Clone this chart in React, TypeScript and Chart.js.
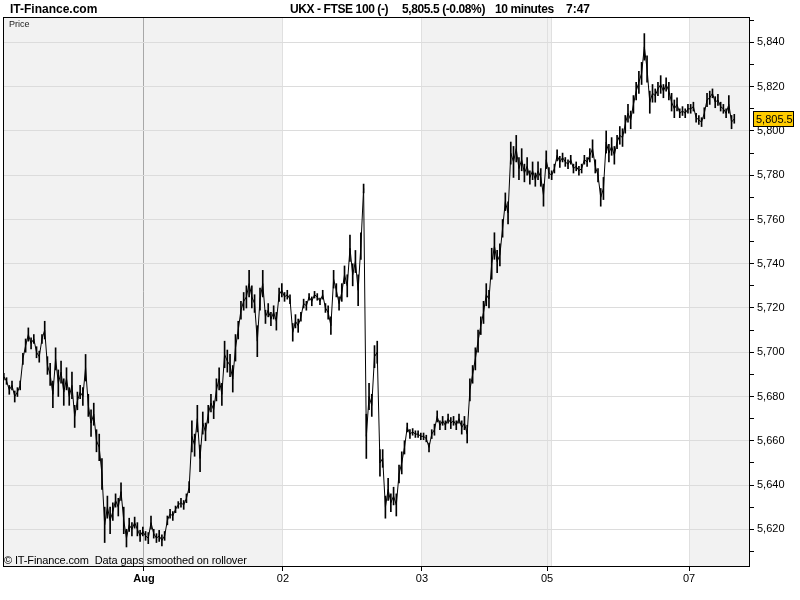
import React, { useEffect, useRef } from 'react';
import { Chart, registerables } from 'chart.js';

Chart.register(...registerables);

// 10-minute closes, one array per trading session
const jul31 = [
  5689, 5687, 5683, 5685, 5680, 5682, 5685, 5697, 5703, 5708,
  5704, 5706, 5700, 5698, 5706, 5710, 5694, 5690, 5681, 5697,
  5686, 5691, 5682, 5688, 5680, 5685, 5671, 5678, 5682, 5680,
  5693, 5676, 5668, 5672, 5660, 5657, 5645, 5622, 5630, 5624,
  5628, 5633, 5630, 5637, 5624, 5616, 5622, 5620, 5623, 5620,
  5617, 5619,
];
const aug01 = [
  5617, 5616, 5623, 5618, 5616, 5617, 5615, 5617, 5624, 5627,
  5626, 5629, 5631, 5632, 5631, 5634, 5639, 5662, 5658, 5670,
  5652, 5668, 5664, 5672, 5677, 5674, 5683, 5688, 5681, 5699,
  5696, 5694, 5688, 5702, 5710, 5719, 5723, 5725, 5731, 5725,
  5722, 5705, 5724, 5731, 5716, 5719, 5715, 5718, 5714, 5726,
  5728,
];
const aug02 = [
  5725, 5726, 5724, 5709, 5714, 5712, 5716, 5722, 5721, 5725,
  5723, 5726, 5725, 5723, 5726, 5720, 5718, 5712, 5733, 5728,
  5722, 5727, 5735, 5730, 5747, 5735, 5741, 5728, 5748, 5774,
  5662, 5680, 5676, 5698, 5700, 5650, 5652, 5630, 5638, 5632,
  5635, 5631, 5645, 5650, 5657, 5666, 5663, 5664, 5663, 5663,
  5662,
];
const aug03 = [
  5662, 5661, 5657, 5663, 5665, 5671, 5667, 5669, 5667, 5670,
  5668, 5669, 5667, 5670, 5666, 5668, 5663, 5683, 5690, 5697,
  5705, 5712, 5718, 5726, 5724, 5740, 5748, 5741, 5744, 5756,
  5768, 5763, 5790, 5786, 5792, 5783, 5787, 5781, 5784, 5779,
  5782, 5778, 5782, 5779, 5771, 5787,
];
const aug06 = [
  5781, 5780, 5783, 5789, 5786, 5788, 5786, 5785, 5787, 5783,
  5784, 5782, 5783, 5787, 5786, 5789, 5792, 5784, 5780, 5770,
  5774, 5795, 5790, 5793, 5789, 5795, 5798, 5797, 5803, 5808,
  5805, 5812, 5818, 5822, 5826, 5838, 5828, 5813, 5817, 5816,
  5819, 5821, 5818, 5821, 5818, 5813, 5810, 5812, 5808, 5809,
  5808, 5810,
];
const aug07 = [
  5810, 5811, 5806, 5805, 5804, 5808, 5814, 5815, 5817, 5813,
  5814, 5811, 5810, 5808, 5812, 5804, 5805.5,
];

// high-low range of each 10-minute bar (index points)
const jul31Range = [
  3, 3, 4, 4, 5, 4, 4, 5, 6, 6, 5, 4, 5, 5, 4, 8,
  8, 10, 12, 10, 12, 10, 12, 10, 8, 12, 10, 8, 6, 8, 12, 10, 12, 10, 10, 12,
  14, 16, 10, 12, 8, 6, 8, 8, 12, 8, 6, 6, 5, 6, 5, 4,
];
const aug01Range = [
  4, 5, 6, 4, 4, 5, 5, 4, 4, 4, 4, 3, 3, 4, 4, 4, 5,
  14, 10, 12, 12, 10, 8, 8, 8, 8, 10, 10, 10, 12, 10, 10, 12, 12, 8,
  8, 8, 10, 12, 10, 8, 14, 10, 12, 6, 6, 6, 6, 8, 6, 6,
];
const aug02Range = [
  4, 4, 4, 8, 6, 6, 4, 4, 4, 3, 4, 3, 3, 3, 4,
  4, 6, 8, 8, 6, 6, 8, 8, 10, 12, 10, 10, 14, 12,
  4, 20, 12, 10, 10, 10, 12, 8, 10, 10, 8, 8, 10, 8, 10, 6, 4, 4, 3, 3, 3, 3,
];
const aug03Range = [
  3, 3, 4, 4, 5, 5, 4, 4, 4, 4, 5, 4, 4, 4, 6, 6, 8,
  10, 8, 10, 10, 8, 10, 10, 8, 14, 12, 10, 10, 8, 8, 10, 10, 14, 12, 10, 10, 8, 8, 6, 8, 6, 8, 8, 10, 8,
];
const aug06Range = [
  5, 4, 4, 5, 5, 4, 4, 4, 4, 4, 4, 4, 4, 4, 4, 6, 8, 6, 6,
  8, 10, 10, 8, 8, 8, 6, 8, 8, 8, 8, 8, 8, 8, 10, 10, 12, 12, 10, 8,
  6, 6, 8, 6, 6, 8, 8, 8, 6, 4, 4, 4, 4,
];
const aug07Range = [4, 4, 4, 4, 4, 5, 6, 6, 4, 5, 5, 4, 4, 4, 8, 6, 4];

const sessions = [jul31, aug01, aug02, aug03, aug06, aug07];
const sessionRanges = [jul31Range, aug01Range, aug02Range, aug03Range, aug06Range, aug07Range];

// x axis (in 10-minute bar units)
const xMin = 0;
const xMax = 273.7;
const dayTickPositions = [51.7, 102.7, 153.7, 199.6, 251.7];
const dayTickLabels = ['Aug', '02', '03', '05', '07'];
const weekendEdge = 201.1;
const shadedRanges = [
  [0, 102.7],
  [153.7, 201.1],
  [251.7, 273.7],
];

// y axis
const yMin = 5603.4;
const yMax = 5851.5;
const priceTicks = [
  5610, 5620, 5630, 5640, 5650, 5660, 5670, 5680, 5690, 5700, 5710, 5720, 5730,
  5740, 5750, 5760, 5770, 5780, 5790, 5800, 5810, 5820, 5830, 5840, 5850,
];

const lastPrice = 5805.5;
const lastPriceLabel = '5,805.5';
const siteTitle = 'IT-Finance.com';
const headerParts = ['UKX - FTSE 100 (-)', '5,805.5 (-0.08%)', '10 minutes', '7:47'];
const footerText = '\u00A9 IT-Finance.com  Data gaps smoothed on rollover';
const panelLabel = 'Price';

const FONT = '"Liberation Sans", Arial, sans-serif';

const decorPlugin = {
  id: 'decor',
  beforeDraw(chart: any) {
    const { ctx, chartArea: a, scales } = chart;
    const x = scales.x;
    ctx.save();
    ctx.fillStyle = '#ffffff';
    ctx.fillRect(0, 0, chart.width, chart.height);
    ctx.fillStyle = '#f2f2f2';
    for (const [s, e] of shadedRanges) {
      const x0 = x.getPixelForValue(s);
      const x1 = x.getPixelForValue(e);
      ctx.fillRect(x0, a.top, x1 - x0, a.bottom - a.top);
    }
    ctx.restore();
  },
  afterDraw(chart: any) {
    const { ctx, chartArea: a, scales } = chart;
    const y = scales.y;
    ctx.save();
    // frame
    ctx.strokeStyle = '#000';
    ctx.lineWidth = 1;
    ctx.strokeRect(a.left + 0.5, a.top + 0.5, a.right - a.left, a.bottom - a.top);

    // header
    ctx.fillStyle = '#000';
    ctx.textBaseline = 'alphabetic';
    ctx.textAlign = 'left';
    ctx.font = `bold 12px ${FONT}`;
    ctx.fillText(siteTitle, 10, 13);
    (ctx as any).letterSpacing = '-0.4px';
    ctx.fillText(headerParts[0], 290, 13);
    ctx.fillText(headerParts[1], 402, 13);
    ctx.fillText(headerParts[2], 495, 13);
    (ctx as any).letterSpacing = '0px';
    ctx.fillText(headerParts[3], 566, 13);

    // panel label
    ctx.font = `9px ${FONT}`;
    ctx.fillStyle = '#222';
    ctx.fillText(panelLabel, 9, 27);

    // footer
    ctx.font = `11px ${FONT}`;
    ctx.fillStyle = '#000';
    (ctx as any).letterSpacing = '-0.13px';
    ctx.fillText(footerText, 4, 564);
    (ctx as any).letterSpacing = '0px';

    // last price marker
    const py = Math.round(y.getPixelForValue(lastPrice));
    ctx.fillStyle = '#ffcc00';
    ctx.fillRect(753.5, py - 7.5, 40, 15);
    ctx.strokeStyle = '#000';
    ctx.strokeRect(753.5, py - 7.5, 40, 15);
    ctx.fillStyle = '#000';
    ctx.font = `11px ${FONT}`;
    ctx.textBaseline = 'middle';
    ctx.fillText(lastPriceLabel, 756, py + 0.5);
    ctx.restore();
  },
};

export default function App() {
  const ref = useRef<HTMLCanvasElement>(null);

  useEffect(() => {
    document.body.style.margin = '0';
    const values = sessions.flat();
    const ranges = sessionRanges.flat();
    const points = values.map((v, i) => ({ x: i + 0.3, y: v }));
    const bars = values.map((v, i) => ({
      x: i + 0.3,
      y: [v - (ranges[i] || 0) / 2, v + (ranges[i] || 0) / 2],
    }));
    const xTicks = [...dayTickPositions, weekendEdge].sort((p, q) => p - q);

    const labelFor = (v: number) => {
      const idx = dayTickPositions.indexOf(v);
      return idx >= 0 ? dayTickLabels[idx] : '';
    };

    const chart = new Chart(ref.current!, {
      type: 'line',
      data: {
        datasets: [
          {
            type: 'line',
            data: points,
            borderColor: '#000',
            borderWidth: 1,
            pointRadius: 0,
            tension: 0,
            fill: false,
            order: 0,
          } as any,
          {
            type: 'bar',
            data: bars,
            backgroundColor: '#000',
            borderWidth: 0,
            barThickness: 1,
            order: 1,
          } as any,
        ],
      },
      options: {
        animation: false,
        responsive: false,
        devicePixelRatio: 1,
        layout: { padding: { left: 3, top: 17, right: 0, bottom: 0 } },
        plugins: {
          legend: { display: false },
          tooltip: { enabled: false },
        },
        scales: {
          x: {
            type: 'linear',
            min: xMin,
            max: xMax,
            offset: false,
            afterBuildTicks: (s: any) => {
              s.ticks = xTicks.map((v) => ({ value: v }));
            },
            afterFit: (s: any) => {
              s.height = 34;
            },
            border: { display: false },
            grid: {
              offset: false,
              color: (c: any) =>
                c.tick && c.tick.value === dayTickPositions[0] ? '#a8a8a8' : '#e0e0e0',
              tickColor: (c: any) =>
                c.tick && labelFor(c.tick.value) !== '' ? '#000' : 'rgba(0,0,0,0)',
              tickLength: 5,
              lineWidth: 1,
            },
            ticks: {
              autoSkip: false,
              maxRotation: 0,
              minRotation: 0,
              padding: 1,
              color: '#000',
              callback: (v: any) => labelFor(v),
              font: (c: any) => ({
                family: FONT,
                size: 11,
                weight: c.tick && c.tick.value === dayTickPositions[0] ? 'bold' : 'normal',
              }),
            },
          },
          y: {
            type: 'linear',
            position: 'right',
            min: yMin,
            max: yMax,
            afterBuildTicks: (s: any) => {
              s.ticks = priceTicks.map((v) => ({ value: v }));
            },
            afterFit: (s: any) => {
              s.width = 51;
            },
            border: { display: false },
            grid: {
              color: (c: any) =>
                c.tick && c.tick.value % 20 === 0 ? '#dcdcdc' : 'rgba(0,0,0,0)',
              tickColor: '#000',
              tickLength: 5,
              lineWidth: 1,
            },
            ticks: {
              autoSkip: false,
              padding: 3,
              color: '#000',
              font: { family: FONT, size: 11 },
              callback: (v: any) => (v % 20 === 0 ? Number(v).toLocaleString('en-US') : ''),
            },
          },
        },
      },
      plugins: [decorPlugin],
    });
    return () => chart.destroy();
  }, []);

  return (
    <div style={{ position: 'absolute', left: 0, top: 0, width: 800, height: 600 }}>
      <canvas ref={ref} width={800} height={600} style={{ width: 800, height: 600, display: 'block' }} />
    </div>
  );
}
